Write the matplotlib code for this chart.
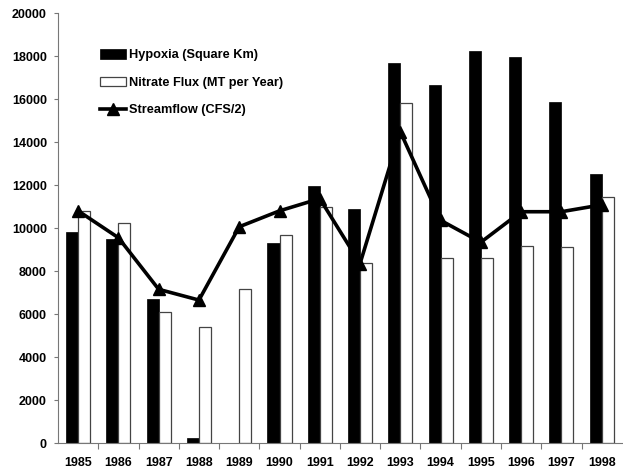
import matplotlib
matplotlib.use("Agg")
import matplotlib.pyplot as plt
import numpy as np

years = ["1985", "1986", "1987", "1988", "1989", "1990", "1991",
         "1992", "1993", "1994", "1995", "1996", "1997", "1998"]
hypoxia = [9800, 9470, 6720, 250, 0, 9290, 11950,
           10870, 17660, 16640, 18250, 17940, 15870, 12530]
nitrate = [10780, 10250, 6110, 5380, 7160, 9660, 10990,
           8390, 15830, 8620, 8590, 9180, 9100, 11430]
streamflow = [10800, 9550, 7150, 6650, 10060, 10800, 11370,
              8350, 14480, 10360, 9340, 10760, 10760, 11080]
yticks = [0, 2000, 4000, 6000, 8000, 10000, 12000, 14000, 16000, 18000, 20000]

plt.rcParams['font.family'] = ['Liberation Sans', 'DejaVu Sans']
plt.rcParams['font.weight'] = 'bold'

fig = plt.figure(figsize=(6.23, 4.68), dpi=100)
ax = fig.add_axes([0.0931, 0.0534, 0.905, 0.9186])

x = np.arange(len(years))
w = 0.3
b1 = ax.bar(x - w / 2, hypoxia, width=w, color='black', edgecolor='black',
            linewidth=0.5, label='Hypoxia (Square Km)', zorder=2)
b2 = ax.bar(x + w / 2, nitrate, width=w, color='white', edgecolor='#444444',
            linewidth=0.9, label='Nitrate Flux (MT per Year)', zorder=2)
l1, = ax.plot(x, streamflow, color='black', linewidth=2.6, marker='^',
              markersize=8.5, label='Streamflow (CFS/2)', zorder=3)

ax.set_xlim(-0.5, len(years) - 0.5)
ax.set_ylim(0, 20000)
ax.set_yticks(yticks)
ax.set_yticklabels([str(v) for v in yticks])
ax.set_xticks(x)
ax.set_xticklabels(years)
ax.set_xticks(x[:-1] + 0.5, minor=True)

for s in ['top', 'right']:
    ax.spines[s].set_visible(False)
for s in ['left', 'bottom']:
    ax.spines[s].set_color('#777777')
    ax.spines[s].set_linewidth(0.8)

ax.tick_params(axis='y', direction='out', length=3, width=0.8, color='#777777',
               pad=5, labelsize=9)
ax.tick_params(axis='x', which='major', length=0, pad=10, labelsize=9)
ax.tick_params(axis='x', which='minor', direction='out', length=4, width=0.8,
               color='#777777')

leg = ax.legend(handles=[b1, b2, l1], loc='upper left',
                bbox_to_anchor=(0.0656, 0.928), frameon=False,
                fontsize=9.2, handlelength=2.0, handleheight=0.75,
                labelspacing=1.2, handletextpad=0.25, borderaxespad=0)

fig.savefig('out.png', dpi=100)
